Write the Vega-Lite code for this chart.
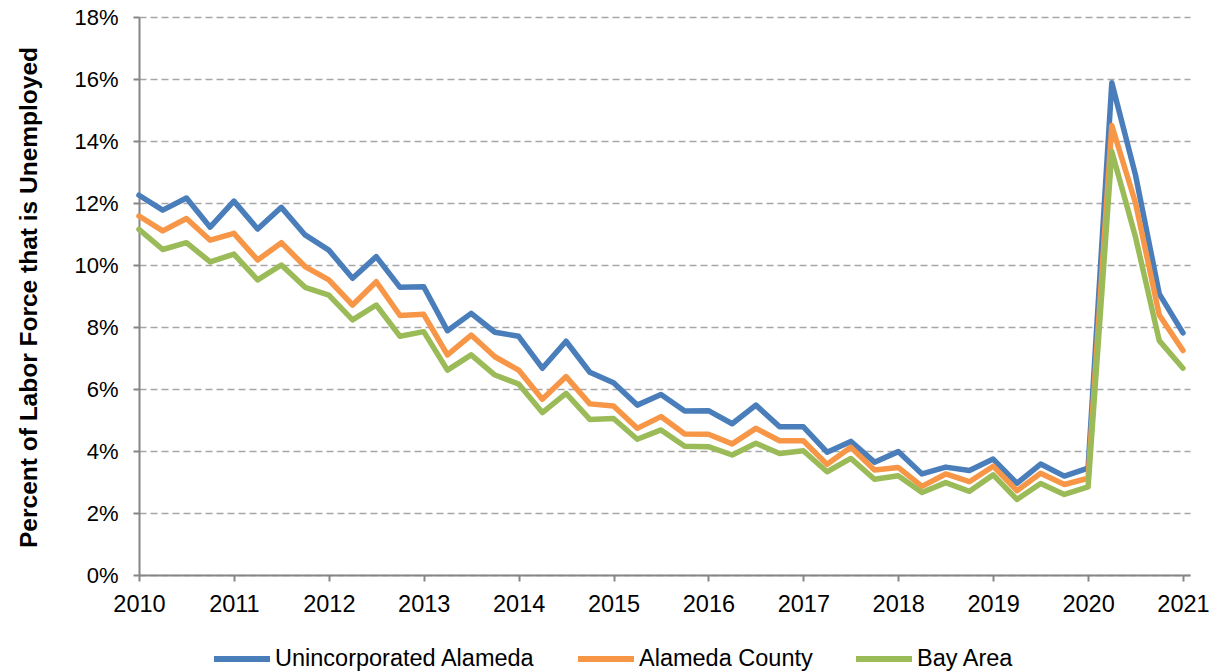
{
  "$schema": "https://vega.github.io/schema/vega-lite/v6.json",
  "width": 1051,
  "height": 558,
  "autosize": {"type": "none"},
  "padding": {"left": 139, "top": 17, "right": 29, "bottom": 97},
  "background": "white",
  "config": {
    "view": {"stroke": null},
    "font": "Liberation Sans"
  },
  "data": {
    "values": [
      {"quarter": 2010.00, "Unincorporated Alameda": 12.25, "Alameda County": 11.58, "Bay Area": 11.15},
      {"quarter": 2010.25, "Unincorporated Alameda": 11.77, "Alameda County": 11.10, "Bay Area": 10.50},
      {"quarter": 2010.50, "Unincorporated Alameda": 12.16, "Alameda County": 11.50, "Bay Area": 10.72},
      {"quarter": 2010.75, "Unincorporated Alameda": 11.22, "Alameda County": 10.80, "Bay Area": 10.10},
      {"quarter": 2011.00, "Unincorporated Alameda": 12.06, "Alameda County": 11.02, "Bay Area": 10.35},
      {"quarter": 2011.25, "Unincorporated Alameda": 11.16, "Alameda County": 10.16, "Bay Area": 9.52},
      {"quarter": 2011.50, "Unincorporated Alameda": 11.86, "Alameda County": 10.72, "Bay Area": 10.00},
      {"quarter": 2011.75, "Unincorporated Alameda": 10.97, "Alameda County": 9.95, "Bay Area": 9.28},
      {"quarter": 2012.00, "Unincorporated Alameda": 10.48, "Alameda County": 9.52, "Bay Area": 9.03},
      {"quarter": 2012.25, "Unincorporated Alameda": 9.57, "Alameda County": 8.71, "Bay Area": 8.23},
      {"quarter": 2012.50, "Unincorporated Alameda": 10.27, "Alameda County": 9.46, "Bay Area": 8.71},
      {"quarter": 2012.75, "Unincorporated Alameda": 9.28, "Alameda County": 8.37, "Bay Area": 7.70},
      {"quarter": 2013.00, "Unincorporated Alameda": 9.30, "Alameda County": 8.41, "Bay Area": 7.85},
      {"quarter": 2013.25, "Unincorporated Alameda": 7.88, "Alameda County": 7.10, "Bay Area": 6.61},
      {"quarter": 2013.50, "Unincorporated Alameda": 8.44, "Alameda County": 7.74, "Bay Area": 7.10},
      {"quarter": 2013.75, "Unincorporated Alameda": 7.83, "Alameda County": 7.04, "Bay Area": 6.45},
      {"quarter": 2014.00, "Unincorporated Alameda": 7.70, "Alameda County": 6.61, "Bay Area": 6.16},
      {"quarter": 2014.25, "Unincorporated Alameda": 6.67, "Alameda County": 5.67, "Bay Area": 5.24},
      {"quarter": 2014.50, "Unincorporated Alameda": 7.54, "Alameda County": 6.40, "Bay Area": 5.86},
      {"quarter": 2014.75, "Unincorporated Alameda": 6.54, "Alameda County": 5.52, "Bay Area": 5.02},
      {"quarter": 2015.00, "Unincorporated Alameda": 6.20, "Alameda County": 5.45, "Bay Area": 5.05},
      {"quarter": 2015.25, "Unincorporated Alameda": 5.48, "Alameda County": 4.73, "Bay Area": 4.38},
      {"quarter": 2015.50, "Unincorporated Alameda": 5.82, "Alameda County": 5.11, "Bay Area": 4.68},
      {"quarter": 2015.75, "Unincorporated Alameda": 5.29, "Alameda County": 4.55, "Bay Area": 4.15},
      {"quarter": 2016.00, "Unincorporated Alameda": 5.30, "Alameda County": 4.54, "Bay Area": 4.14},
      {"quarter": 2016.25, "Unincorporated Alameda": 4.88, "Alameda County": 4.23, "Bay Area": 3.87},
      {"quarter": 2016.50, "Unincorporated Alameda": 5.48, "Alameda County": 4.73, "Bay Area": 4.25},
      {"quarter": 2016.75, "Unincorporated Alameda": 4.78, "Alameda County": 4.33, "Bay Area": 3.92},
      {"quarter": 2017.00, "Unincorporated Alameda": 4.78, "Alameda County": 4.33, "Bay Area": 4.01},
      {"quarter": 2017.25, "Unincorporated Alameda": 3.96, "Alameda County": 3.57, "Bay Area": 3.33},
      {"quarter": 2017.50, "Unincorporated Alameda": 4.31, "Alameda County": 4.12, "Bay Area": 3.76},
      {"quarter": 2017.75, "Unincorporated Alameda": 3.64, "Alameda County": 3.39, "Bay Area": 3.09},
      {"quarter": 2018.00, "Unincorporated Alameda": 3.98, "Alameda County": 3.47, "Bay Area": 3.20},
      {"quarter": 2018.25, "Unincorporated Alameda": 3.26, "Alameda County": 2.86, "Bay Area": 2.66},
      {"quarter": 2018.50, "Unincorporated Alameda": 3.48, "Alameda County": 3.26, "Bay Area": 2.98},
      {"quarter": 2018.75, "Unincorporated Alameda": 3.37, "Alameda County": 3.01, "Bay Area": 2.70},
      {"quarter": 2019.00, "Unincorporated Alameda": 3.74, "Alameda County": 3.51, "Bay Area": 3.23},
      {"quarter": 2019.25, "Unincorporated Alameda": 2.96, "Alameda County": 2.72, "Bay Area": 2.44},
      {"quarter": 2019.50, "Unincorporated Alameda": 3.58, "Alameda County": 3.28, "Bay Area": 2.95},
      {"quarter": 2019.75, "Unincorporated Alameda": 3.19, "Alameda County": 2.92, "Bay Area": 2.60},
      {"quarter": 2020.00, "Unincorporated Alameda": 3.45, "Alameda County": 3.12, "Bay Area": 2.84},
      {"quarter": 2020.25, "Unincorporated Alameda": 15.88, "Alameda County": 14.50, "Bay Area": 13.66},
      {"quarter": 2020.50, "Unincorporated Alameda": 12.90, "Alameda County": 12.00, "Bay Area": 10.90},
      {"quarter": 2020.75, "Unincorporated Alameda": 9.07, "Alameda County": 8.39, "Bay Area": 7.56},
      {"quarter": 2021.00, "Unincorporated Alameda": 7.81, "Alameda County": 7.24, "Bay Area": 6.67}
    ]
  },
  "transform": [
    {"fold": ["Unincorporated Alameda", "Alameda County", "Bay Area"], "as": ["series", "rate"]}
  ],
  "mark": {"type": "line", "strokeWidth": 5.5, "strokeJoin": "round", "strokeCap": "round"},
  "encoding": {
    "x": {
      "field": "quarter",
      "type": "quantitative",
      "scale": {"domain": [2010, 2021.074], "nice": false, "zero": false},
      "axis": {
        "title": null,
        "values": [2010, 2011, 2012, 2013, 2014, 2015, 2016, 2017, 2018, 2019, 2020, 2021],
        "format": "d",
        "grid": false,
        "domainColor": "#868686",
        "domainWidth": 2,
        "tickColor": "#868686",
        "tickWidth": 2,
        "tickSize": 6,
        "labelFont": "Liberation Sans",
        "labelFontSize": 23.5,
        "labelColor": "black",
        "labelPadding": 11,
        "labelFlush": false,
        "labelOverlap": false
      }
    },
    "y": {
      "field": "rate",
      "type": "quantitative",
      "scale": {"domain": [0, 18], "nice": false},
      "axis": {
        "title": "Percent of Labor Force that is Unemployed",
        "titleFont": "Liberation Sans",
        "titleFontSize": 24.5,
        "titleFontWeight": "bold",
        "titleColor": "black",
        "titleAngle": -90,
        "titleX": -103,
        "titleY": 280,
        "titleAlign": "center",
        "titleBaseline": "alphabetic",
        "values": [0, 2, 4, 6, 8, 10, 12, 14, 16, 18],
        "labelExpr": "datum.value + '%'",
        "grid": true,
        "gridColor": "#a6a6a6",
        "gridWidth": 1.5,
        "gridDash": [7, 4],
        "domainColor": "#868686",
        "domainWidth": 2,
        "tickColor": "#868686",
        "tickWidth": 2,
        "tickSize": 6,
        "labelFont": "Liberation Sans",
        "labelFontSize": 22,
        "labelColor": "black",
        "labelPadding": 15,
        "labelFlush": false,
        "labelOverlap": false
      }
    },
    "color": {
      "field": "series",
      "type": "nominal",
      "sort": ["Unincorporated Alameda", "Alameda County", "Bay Area"],
      "scale": {
        "domain": ["Unincorporated Alameda", "Alameda County", "Bay Area"],
        "range": ["#4a7ebb", "#f79646", "#9bbb59"]
      },
      "legend": {
        "title": null,
        "orient": "none",
        "legendX": 72,
        "legendY": 611,
        "direction": "horizontal",
        "symbolType": "stroke",
        "symbolSize": 3136,
        "symbolStrokeWidth": 6,
        "labelFont": "Liberation Sans",
        "labelFontSize": 23.5,
        "labelColor": "black",
        "labelOffset": 2,
        "labelLimit": 500,
        "columnPadding": 31,
        "padding": 0
      }
    }
  }
}
